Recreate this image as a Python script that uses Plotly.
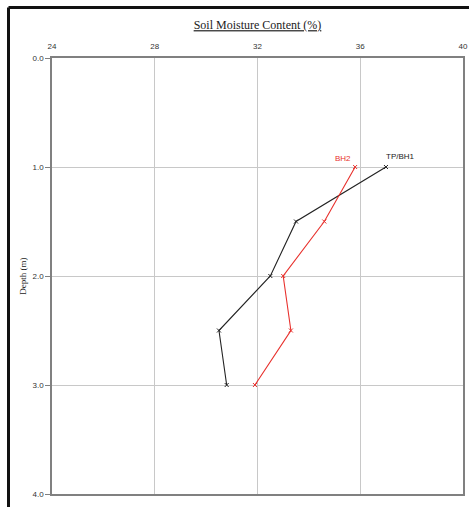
import plotly.graph_objects as go

depth = [1.0, 1.5, 2.0, 2.5, 3.0]
tp_bh1 = [37.0, 33.5, 32.5, 30.5, 30.8]
bh2 = [35.8, 34.6, 33.0, 33.3, 31.9]
x_ticks = [24, 28, 32, 36, 40]
y_ticks = [0.0, 1.0, 2.0, 3.0, 4.0]

W, H = 469, 507
ml, mr, mt, mb = 52, 6, 58, 13
pw, ph = W - ml - mr, H - mt - mb

fig = go.Figure()
fig.add_trace(go.Scatter(x=tp_bh1, y=depth, mode="lines+markers", name="TP/BH1",
                         line=dict(color="#222222", width=1.1),
                         marker=dict(symbol="x-thin", size=4, line=dict(color="#222222", width=1))))
fig.add_trace(go.Scatter(x=bh2, y=depth, mode="lines+markers", name="BH2",
                         line=dict(color="#e8302c", width=1.1),
                         marker=dict(symbol="x-thin", size=4, line=dict(color="#e8302c", width=1))))

fig.add_annotation(x=35.33, y=0.92, text="BH2", showarrow=False,
                   font=dict(family="Liberation Sans, Arial", size=8, color="#e8302c"))
fig.add_annotation(x=37.55, y=0.90, text="TP/BH1", showarrow=False,
                   font=dict(family="Liberation Sans, Arial", size=8, color="#222222"))

# outer frame
fx = (8.5 - ml) / pw
fy = 1 + (mt - 7.5) / ph
fig.add_shape(type="line", xref="paper", yref="paper", x0=fx, x1=fx, y0=-0.2, y1=fy,
              line=dict(color="#111111", width=3))
fig.add_shape(type="line", xref="paper", yref="paper", x0=fx, x1=1.2, y0=fy, y1=fy,
              line=dict(color="#111111", width=3))

fig.update_layout(
    width=W, height=H,
    margin=dict(l=ml, r=mr, t=mt, b=mb, autoexpand=False),
    paper_bgcolor="white", plot_bgcolor="white",
    showlegend=False,
    title=dict(text="<u>Soil Moisture Content (%)</u>", x=(ml + pw / 2) / W, xanchor="center",
               y=1 - 25 / H, yanchor="middle",
               font=dict(family="Liberation Serif, Times New Roman", size=12, color="#222222")),
    xaxis=dict(side="top", range=[24, 40], tickvals=x_ticks, ticktext=[str(v) for v in x_ticks],
               showgrid=True, gridcolor="#c8c8c8", gridwidth=1, zeroline=False,
               showline=True, mirror=True, linecolor="#808080", linewidth=1.5,
               ticks="", ticklabelstandoff=4, automargin=False, ticklabeloverflow="allow",
               tickfont=dict(family="Liberation Sans, Arial", size=8, color="#333333")),
    yaxis=dict(range=[4, 0], tickvals=y_ticks, ticktext=[f"{v:.1f}" for v in y_ticks],
               showgrid=True, gridcolor="#c8c8c8", gridwidth=1, zeroline=False,
               showline=True, mirror=True, linecolor="#808080", linewidth=1.5,
               ticks="outside", ticklen=5, tickcolor="#808080", automargin=False,
               ticklabeloverflow="allow",
               title=dict(text="Depth (m)", standoff=4,
                          font=dict(family="Liberation Serif, Times New Roman", size=9, color="#222222")),
               tickfont=dict(family="Liberation Sans, Arial", size=8, color="#333333")),
)

fig.write_html("out.html", config={"displayModeBar": False},
               post_script="document.body.style.margin='0';")
